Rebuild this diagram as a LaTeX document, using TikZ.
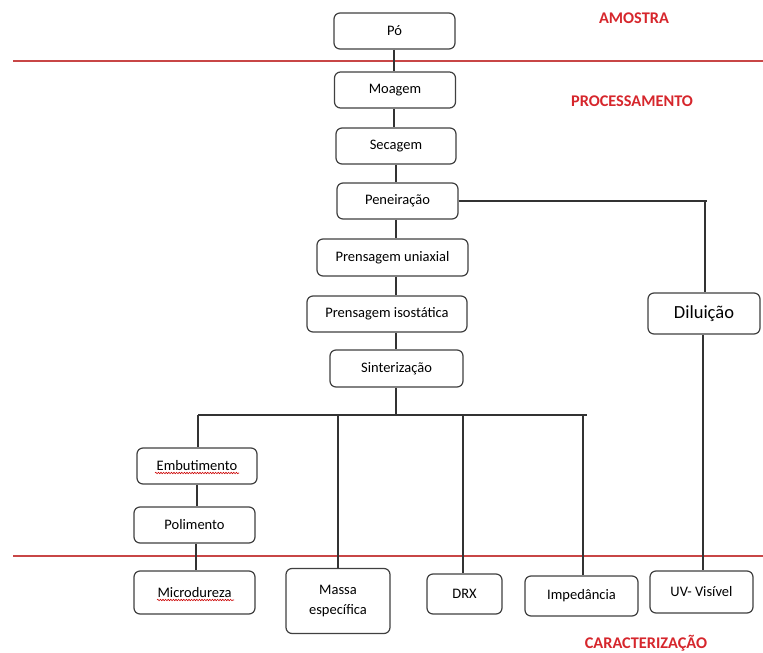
\documentclass[tikz,border=0pt]{standalone}
\usepackage{fontspec}
\setmainfont{Carlito}
\usetikzlibrary{decorations.pathmorphing}
\definecolor{lblred}{RGB}{214,38,44}
\definecolor{linered}{RGB}{200,70,70}
\begin{document}
\begin{tikzpicture}[x=1pt,y=-1pt,
  box/.style={draw=black!75, line width=1.2pt, rounded corners=6pt, fill=white, inner sep=0pt, font=\fontsize{14.5}{20}\selectfont, align=center},
  conn/.style={draw=black!80, line width=1.4pt},
  sect/.style={text=lblred, font=\bfseries\fontsize{16.3}{18}\selectfont},
  redline/.style={draw=linered, line width=1.2pt},
  squig/.style={draw=red!80!black, line width=0.6pt, decorate, decoration={snake, amplitude=0.7pt, segment length=2.6pt}}]
\useasboundingbox (0,0) rectangle (763,653);

% section separators
\coordinate (r1a) at (13,61);  \coordinate (r1b) at (763,61);
\coordinate (r2a) at (13,556); \coordinate (r2b) at (763,556);
\draw[redline] (r1a) -- (r1b);
\draw[redline] (r2a) -- (r2b);

% section labels
\node[sect] (lamostra) at (634,18) {AMOSTRA};
\node[sect] (lproc) at (632,101) {PROCESSAMENTO};
\node[sect] (lcarac) at (646,643) {CARACTERIZAÇÃO};

% process boxes
\node[box, minimum width=121pt, minimum height=36pt] (po) at (394.5,31) {Pó};
\node[box, minimum width=121pt, minimum height=36pt] (moagem) at (395,90) {Moagem};
\node[box, minimum width=120pt, minimum height=36pt] (secagem) at (396,146) {Secagem};
\node[box, minimum width=121pt, minimum height=36pt] (peneiracao) at (397.5,201) {Peneiração};
\node[box, minimum width=151pt, minimum height=37pt] (uniaxial) at (392.5,257.5) {Prensagem uniaxial};
\node[box, minimum width=160pt, minimum height=36pt] (isostatica) at (387,314) {Prensagem isostática};
\node[box, minimum width=133pt, minimum height=37pt] (sinter) at (396.5,368.5) {Sinterização};
\node[box, minimum width=112pt, minimum height=41pt, font=\fontsize{18.5}{20}\selectfont] (diluicao) at (704,313.5) {Diluição};

\node[box, minimum width=120pt, minimum height=36pt] (embut) at (197,466) {Embutimento};
\node[box, minimum width=121pt, minimum height=36pt] (polim) at (194.5,525) {Polimento};

% characterisation boxes
\node[box, minimum width=121pt, minimum height=43pt] (micro) at (194.5,592.5) {Microdureza};
\node[box, minimum width=104pt, minimum height=65pt, align=center] (massa) at (338,601) {Massa\\específica};
\node[box, minimum width=75pt, minimum height=40pt] (drx) at (464.5,594) {DRX};
\node[box, minimum width=113pt, minimum height=40pt] (imped) at (581.5,596) {Impedância};
\node[box, minimum width=103pt, minimum height=42pt] (uv) at (701.5,592) {UV- Visível};

% spell-check squiggles
\coordinate (s1a) at (155,473); \coordinate (s1b) at (239,473);
\coordinate (s2a) at (157,600); \coordinate (s2b) at (234,600);
\draw[squig] (s1a) -- (s1b);
\draw[squig] (s2a) -- (s2b);

% main chain connectors
\coordinate (axA) at (394,0);
\coordinate (axB) at (396,0);
\draw[conn] (axA |- po.south) -- (axA |- moagem.north);
\draw[conn] (axA |- moagem.south) -- (axA |- secagem.north);
\draw[conn] (axB |- secagem.south) -- (axB |- peneiracao.north);
\draw[conn] (axB |- peneiracao.south) -- (axB |- uniaxial.north);
\draw[conn] (axB |- uniaxial.south) -- (axB |- isostatica.north);
\draw[conn] (axB |- isostatica.south) -- (axB |- sinter.north);

% branch to Diluição
\coordinate (pcorner) at (707,201);
\coordinate (dtop) at (705,201);
\draw[conn] (peneiracao.east) -- (peneiracao.east -| pcorner);
\draw[conn] (dtop) -- (dtop |- diluicao.north);
\draw[conn] (703,0 |- diluicao.south) -- (703,0 |- uv.north);

% bar under Sinterização
\coordinate (barL) at (198,415);
\coordinate (barR) at (587,415);
\draw[conn] (barL) -- (barR);
\draw[conn] (axB |- sinter.south) -- (axB |- barL);
\draw[conn] (barL) -- (barL |- embut.north);
\draw[conn] (338,415) -- (massa.north);
\draw[conn] (463,415) -- (463,415 |- drx.north);
\draw[conn] (583,415) -- (583,415 |- imped.north);
\draw[conn] (197,0 |- embut.south) -- (197,0 |- polim.north);
\draw[conn] (196,0 |- polim.south) -- (196,0 |- micro.north);
\end{tikzpicture}
\end{document}
